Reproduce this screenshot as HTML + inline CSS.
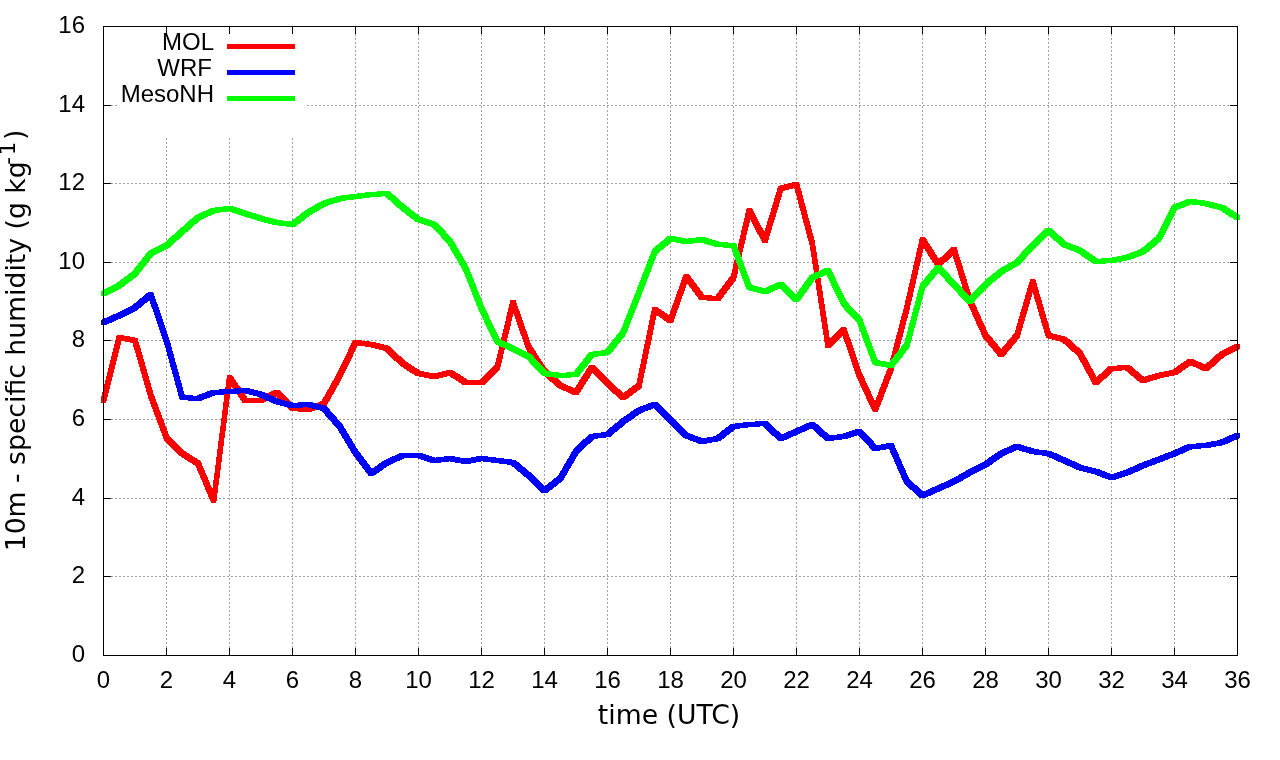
<!DOCTYPE html>
<html lang="en"><head><meta charset="utf-8"><title>10m specific humidity</title>
<style>html,body{margin:0;padding:0;background:#fff}body{width:1280px;height:760px;overflow:hidden}svg{display:block}.t{font-family:"Liberation Sans",sans-serif;font-size:24px;fill:#000}.a{font-family:"DejaVu Sans","Liberation Sans",sans-serif;font-size:26.67px;fill:#000}.g{stroke:#a0a0a0;stroke-width:1;stroke-dasharray:2 2;fill:none}.k{stroke:#000;stroke-width:1;fill:none}</style></head><body>
<svg width="1280" height="760" viewBox="0 0 1280 760">
<rect width="1280" height="760" fill="#fff"/>
<g class="g">
<line x1="103" y1="576.5" x2="1238" y2="576.5"/>
<line x1="103" y1="498.5" x2="1238" y2="498.5"/>
<line x1="103" y1="419.5" x2="1238" y2="419.5"/>
<line x1="103" y1="340.5" x2="1238" y2="340.5"/>
<line x1="103" y1="262.5" x2="1238" y2="262.5"/>
<line x1="103" y1="183.5" x2="1238" y2="183.5"/>
<line x1="103" y1="105.5" x2="1238" y2="105.5"/>
<line x1="166.5" y1="656" x2="166.5" y2="26"/>
<line x1="229.5" y1="656" x2="229.5" y2="26"/>
<line x1="292.5" y1="656" x2="292.5" y2="26"/>
<line x1="355.5" y1="656" x2="355.5" y2="26"/>
<line x1="418.5" y1="656" x2="418.5" y2="26"/>
<line x1="481.5" y1="656" x2="481.5" y2="26"/>
<line x1="544.5" y1="656" x2="544.5" y2="26"/>
<line x1="607.5" y1="656" x2="607.5" y2="26"/>
<line x1="670.5" y1="656" x2="670.5" y2="26"/>
<line x1="733.5" y1="656" x2="733.5" y2="26"/>
<line x1="796.5" y1="656" x2="796.5" y2="26"/>
<line x1="859.5" y1="656" x2="859.5" y2="26"/>
<line x1="922.5" y1="656" x2="922.5" y2="26"/>
<line x1="985.5" y1="656" x2="985.5" y2="26"/>
<line x1="1048.5" y1="656" x2="1048.5" y2="26"/>
<line x1="1111.5" y1="656" x2="1111.5" y2="26"/>
<line x1="1174.5" y1="656" x2="1174.5" y2="26"/>
</g>
<rect x="118" y="27" width="188" height="110" fill="#fff"/>
<g class="k">
<line x1="103" y1="655.5" x2="111" y2="655.5"/><line x1="1238" y1="655.5" x2="1230" y2="655.5"/>
<line x1="103" y1="576.5" x2="111" y2="576.5"/><line x1="1238" y1="576.5" x2="1230" y2="576.5"/>
<line x1="103" y1="498.5" x2="111" y2="498.5"/><line x1="1238" y1="498.5" x2="1230" y2="498.5"/>
<line x1="103" y1="419.5" x2="111" y2="419.5"/><line x1="1238" y1="419.5" x2="1230" y2="419.5"/>
<line x1="103" y1="340.5" x2="111" y2="340.5"/><line x1="1238" y1="340.5" x2="1230" y2="340.5"/>
<line x1="103" y1="262.5" x2="111" y2="262.5"/><line x1="1238" y1="262.5" x2="1230" y2="262.5"/>
<line x1="103" y1="183.5" x2="111" y2="183.5"/><line x1="1238" y1="183.5" x2="1230" y2="183.5"/>
<line x1="103" y1="105.5" x2="111" y2="105.5"/><line x1="1238" y1="105.5" x2="1230" y2="105.5"/>
<line x1="103" y1="26.5" x2="111" y2="26.5"/><line x1="1238" y1="26.5" x2="1230" y2="26.5"/>
<line x1="103.5" y1="656" x2="103.5" y2="648"/><line x1="103.5" y1="26" x2="103.5" y2="34"/>
<line x1="166.5" y1="656" x2="166.5" y2="648"/><line x1="166.5" y1="26" x2="166.5" y2="34"/>
<line x1="229.5" y1="656" x2="229.5" y2="648"/><line x1="229.5" y1="26" x2="229.5" y2="34"/>
<line x1="292.5" y1="656" x2="292.5" y2="648"/><line x1="292.5" y1="26" x2="292.5" y2="34"/>
<line x1="355.5" y1="656" x2="355.5" y2="648"/><line x1="355.5" y1="26" x2="355.5" y2="34"/>
<line x1="418.5" y1="656" x2="418.5" y2="648"/><line x1="418.5" y1="26" x2="418.5" y2="34"/>
<line x1="481.5" y1="656" x2="481.5" y2="648"/><line x1="481.5" y1="26" x2="481.5" y2="34"/>
<line x1="544.5" y1="656" x2="544.5" y2="648"/><line x1="544.5" y1="26" x2="544.5" y2="34"/>
<line x1="607.5" y1="656" x2="607.5" y2="648"/><line x1="607.5" y1="26" x2="607.5" y2="34"/>
<line x1="670.5" y1="656" x2="670.5" y2="648"/><line x1="670.5" y1="26" x2="670.5" y2="34"/>
<line x1="733.5" y1="656" x2="733.5" y2="648"/><line x1="733.5" y1="26" x2="733.5" y2="34"/>
<line x1="796.5" y1="656" x2="796.5" y2="648"/><line x1="796.5" y1="26" x2="796.5" y2="34"/>
<line x1="859.5" y1="656" x2="859.5" y2="648"/><line x1="859.5" y1="26" x2="859.5" y2="34"/>
<line x1="922.5" y1="656" x2="922.5" y2="648"/><line x1="922.5" y1="26" x2="922.5" y2="34"/>
<line x1="985.5" y1="656" x2="985.5" y2="648"/><line x1="985.5" y1="26" x2="985.5" y2="34"/>
<line x1="1048.5" y1="656" x2="1048.5" y2="648"/><line x1="1048.5" y1="26" x2="1048.5" y2="34"/>
<line x1="1111.5" y1="656" x2="1111.5" y2="648"/><line x1="1111.5" y1="26" x2="1111.5" y2="34"/>
<line x1="1174.5" y1="656" x2="1174.5" y2="648"/><line x1="1174.5" y1="26" x2="1174.5" y2="34"/>
<line x1="1237.5" y1="656" x2="1237.5" y2="648"/><line x1="1237.5" y1="26" x2="1237.5" y2="34"/>
</g>
<g class="t" text-anchor="end">
<text x="85" y="662.0">0</text>
<text x="85" y="583.0">2</text>
<text x="85" y="505.0">4</text>
<text x="85" y="426.0">6</text>
<text x="85" y="347.0">8</text>
<text x="85" y="269.0">10</text>
<text x="85" y="190.0">12</text>
<text x="85" y="112.0">14</text>
<text x="85" y="33.0">16</text>
</g>
<g class="t" text-anchor="middle">
<text x="103.5" y="688">0</text>
<text x="166.5" y="688">2</text>
<text x="229.5" y="688">4</text>
<text x="292.5" y="688">6</text>
<text x="355.5" y="688">8</text>
<text x="418.5" y="688">10</text>
<text x="481.5" y="688">12</text>
<text x="544.5" y="688">14</text>
<text x="607.5" y="688">16</text>
<text x="670.5" y="688">18</text>
<text x="733.5" y="688">20</text>
<text x="796.5" y="688">22</text>
<text x="859.5" y="688">24</text>
<text x="922.5" y="688">26</text>
<text x="985.5" y="688">28</text>
<text x="1048.5" y="688">30</text>
<text x="1111.5" y="688">32</text>
<text x="1174.5" y="688">34</text>
<text x="1237.5" y="688">36</text>
</g>
<text class="a" text-anchor="middle" x="669" y="723.5">time (UTC)</text>
<text class="a" text-anchor="middle" transform="translate(25,340.5) rotate(-90)">10m - specific humidity (g kg<tspan font-size="21.33px" dy="-10" dx="-3.5">-</tspan><tspan font-size="21.33px" dx="2">1</tspan><tspan dy="8.75" dx="1.5">)</tspan></text>
<g class="t" text-anchor="end">
<text x="214" y="49.5">MOL</text>
<text x="212" y="75.5">WRF</text>
<text x="214" y="101.5">MesoNH</text>
</g>
<rect x="227" y="44.0" width="68" height="5" fill="#ff0000"/>
<rect x="227" y="70.0" width="68" height="5" fill="#0000ff"/>
<rect x="227" y="96.0" width="68" height="5" fill="#00ff00"/>
<g shape-rendering="crispEdges">
<path fill="#ff0000" d="M101 398L116.75 335L121.75 335L121.75 340L106 403L101 403ZM116.75 335L121.75 335L137.5 338L137.5 343L132.5 343L116.75 340ZM132.5 338L137.5 338L153.25 393L153.25 398L148.25 398L132.5 343ZM148.25 393L153.25 393L169 435L169 440L164 440L148.25 398ZM164 435L169 435L184.75 451L184.75 456L179.75 456L164 440ZM179.75 451L184.75 451L200.5 461L200.5 466L195.5 466L179.75 456ZM195.5 461L200.5 461L216.25 498L216.25 503L211.25 503L195.5 466ZM211.25 498L227 375L232 375L232 380L216.25 503L211.25 503ZM227 375L232 375L247.75 398L247.75 403L242.75 403L227 380ZM242.75 398L263.5 398L263.5 403L242.75 403ZM258.5 398L274.25 390L279.25 390L279.25 395L263.5 403L258.5 403ZM274.25 390L279.25 390L295 406L295 411L290 411L274.25 395ZM290 406L295 406L310.75 407L310.75 412L305.75 412L290 411ZM305.75 407L321.5 401L326.5 401L326.5 406L310.75 412L305.75 412ZM321.5 401L337.25 373L342.25 373L342.25 378L326.5 406L321.5 406ZM337.25 373L353 340L358 340L358 345L342.25 378L337.25 378ZM353 340L358 340L373.75 342L373.75 347L368.75 347L353 345ZM368.75 342L373.75 342L389.5 346L389.5 351L384.5 351L368.75 347ZM384.5 346L389.5 346L405.25 361L405.25 366L400.25 366L384.5 351ZM400.25 361L405.25 361L421 371L421 376L416 376L400.25 366ZM416 371L421 371L436.75 374L436.75 379L431.75 379L416 376ZM431.75 374L447.5 370L452.5 370L452.5 375L436.75 379L431.75 379ZM447.5 370L452.5 370L468.25 380L468.25 385L463.25 385L447.5 375ZM463.25 380L484 380L484 385L463.25 385ZM479 380L494.75 365L499.75 365L499.75 370L484 385L479 385ZM494.75 365L510.5 300L515.5 300L515.5 305L499.75 370L494.75 370ZM510.5 300L515.5 300L531.25 345L531.25 350L526.25 350L510.5 305ZM526.25 345L531.25 345L547 369L547 374L542 374L526.25 350ZM542 369L547 369L562.75 383L562.75 388L557.75 388L542 374ZM557.75 383L562.75 383L578.5 390L578.5 395L573.5 395L557.75 388ZM573.5 390L589.25 365L594.25 365L594.25 370L578.5 395L573.5 395ZM589.25 365L594.25 365L610 381L610 386L605 386L589.25 370ZM605 381L610 381L625.75 395L625.75 400L620.75 400L605 386ZM620.75 395L636.5 383L641.5 383L641.5 388L625.75 400L620.75 400ZM636.5 383L652.25 307L657.25 307L657.25 312L641.5 388L636.5 388ZM652.25 307L657.25 307L673 318L673 323L668 323L652.25 312ZM668 318L683.75 274L688.75 274L688.75 279L673 323L668 323ZM683.75 274L688.75 274L704.5 295L704.5 300L699.5 300L683.75 279ZM699.5 295L704.5 295L720.25 296L720.25 301L715.25 301L699.5 300ZM715.25 296L731 275L736 275L736 280L720.25 301L715.25 301ZM731 275L746.75 208L751.75 208L751.75 213L736 280L731 280ZM746.75 208L751.75 208L767.5 238L767.5 243L762.5 243L746.75 213ZM762.5 238L778.25 186L783.25 186L783.25 191L767.5 243L762.5 243ZM778.25 186L794 182L799 182L799 187L783.25 191L778.25 191ZM794 182L799 182L814.75 241L814.75 246L809.75 246L794 187ZM809.75 241L814.75 241L830.5 343L830.5 348L825.5 348L809.75 246ZM825.5 343L841.25 327L846.25 327L846.25 332L830.5 348L825.5 348ZM841.25 327L846.25 327L862 373L862 378L857 378L841.25 332ZM857 373L862 373L877.75 407L877.75 412L872.75 412L857 378ZM872.75 407L888.5 366L893.5 366L893.5 371L877.75 412L872.75 412ZM888.5 366L904.25 306L909.25 306L909.25 311L893.5 371L888.5 371ZM904.25 306L920 237L925 237L925 242L909.25 311L904.25 311ZM920 237L925 237L940.75 262L940.75 267L935.75 267L920 242ZM935.75 262L951.5 247L956.5 247L956.5 252L940.75 267L935.75 267ZM951.5 247L956.5 247L972.25 298L972.25 303L967.25 303L951.5 252ZM967.25 298L972.25 298L988 333L988 338L983 338L967.25 303ZM983 333L988 333L1003.75 352L1003.75 357L998.75 357L983 338ZM998.75 352L1014.5 333L1019.5 333L1019.5 338L1003.75 357L998.75 357ZM1014.5 333L1030.25 279L1035.25 279L1035.25 284L1019.5 338L1014.5 338ZM1030.25 279L1035.25 279L1051 333L1051 338L1046 338L1030.25 284ZM1046 333L1051 333L1066.75 337L1066.75 342L1061.75 342L1046 338ZM1061.75 337L1066.75 337L1082.5 351L1082.5 356L1077.5 356L1061.75 342ZM1077.5 351L1082.5 351L1098.25 380L1098.25 385L1093.25 385L1077.5 356ZM1093.25 380L1109 366L1114 366L1114 371L1098.25 385L1093.25 385ZM1109 366L1124.75 365L1129.75 365L1129.75 370L1114 371L1109 371ZM1124.75 365L1129.75 365L1145.5 378L1145.5 383L1140.5 383L1124.75 370ZM1140.5 378L1156.25 373L1161.25 373L1161.25 378L1145.5 383L1140.5 383ZM1156.25 373L1172 370L1177 370L1177 375L1161.25 378L1156.25 378ZM1172 370L1187.75 359L1192.75 359L1192.75 364L1177 375L1172 375ZM1187.75 359L1192.75 359L1208.5 366L1208.5 371L1203.5 371L1187.75 364ZM1203.5 366L1219.25 352L1224.25 352L1224.25 357L1208.5 371L1203.5 371ZM1219.25 352L1235 344L1240 344L1240 349L1224.25 357L1219.25 357Z"/>
<path fill="#0000ff" d="M101 320L116.75 313L121.75 313L121.75 318L106 325L101 325ZM116.75 313L132.5 305L137.5 305L137.5 310L121.75 318L116.75 318ZM132.5 305L148.25 292L153.25 292L153.25 297L137.5 310L132.5 310ZM148.25 292L153.25 292L169 338L169 343L164 343L148.25 297ZM164 338L169 338L184.75 395L184.75 400L179.75 400L164 343ZM179.75 395L184.75 395L200.5 396L200.5 401L195.5 401L179.75 400ZM195.5 396L211.25 390L216.25 390L216.25 395L200.5 401L195.5 401ZM211.25 390L227 389L232 389L232 394L216.25 395L211.25 395ZM227 389L242.75 388L247.75 388L247.75 393L232 394L227 394ZM242.75 388L247.75 388L263.5 392L263.5 397L258.5 397L242.75 393ZM258.5 392L263.5 392L279.25 399L279.25 404L274.25 404L258.5 397ZM274.25 399L279.25 399L295 403L295 408L290 408L274.25 404ZM290 403L305.75 402L310.75 402L310.75 407L295 408L290 408ZM305.75 402L310.75 402L326.5 406L326.5 411L321.5 411L305.75 407ZM321.5 406L326.5 406L342.25 424L342.25 429L337.25 429L321.5 411ZM337.25 424L342.25 424L358 450L358 455L353 455L337.25 429ZM353 450L358 450L373.75 471L373.75 476L368.75 476L353 455ZM368.75 471L384.5 460L389.5 460L389.5 465L373.75 476L368.75 476ZM384.5 460L400.25 453L405.25 453L405.25 458L389.5 465L384.5 465ZM400.25 453L421 453L421 458L400.25 458ZM416 453L421 453L436.75 458L436.75 463L431.75 463L416 458ZM431.75 458L447.5 456L452.5 456L452.5 461L436.75 463L431.75 463ZM447.5 456L452.5 456L468.25 459L468.25 464L463.25 464L447.5 461ZM463.25 459L479 456L484 456L484 461L468.25 464L463.25 464ZM479 456L484 456L499.75 458L499.75 463L494.75 463L479 461ZM494.75 458L499.75 458L515.5 460L515.5 465L510.5 465L494.75 463ZM510.5 460L515.5 460L531.25 473L531.25 478L526.25 478L510.5 465ZM526.25 473L531.25 473L547 488L547 493L542 493L526.25 478ZM542 488L557.75 476L562.75 476L562.75 481L547 493L542 493ZM557.75 476L573.5 449L578.5 449L578.5 454L562.75 481L557.75 481ZM573.5 449L589.25 434L594.25 434L594.25 439L578.5 454L573.5 454ZM589.25 434L605 432L610 432L610 437L594.25 439L589.25 439ZM605 432L620.75 419L625.75 419L625.75 424L610 437L605 437ZM620.75 419L636.5 408L641.5 408L641.5 413L625.75 424L620.75 424ZM636.5 408L652.25 402L657.25 402L657.25 407L641.5 413L636.5 413ZM652.25 402L657.25 402L673 417L673 422L668 422L652.25 407ZM668 417L673 417L688.75 433L688.75 438L683.75 438L668 422ZM683.75 433L688.75 433L704.5 439L704.5 444L699.5 444L683.75 438ZM699.5 439L715.25 436L720.25 436L720.25 441L704.5 444L699.5 444ZM715.25 436L731 424L736 424L736 429L720.25 441L715.25 441ZM731 424L746.75 422L751.75 422L751.75 427L736 429L731 429ZM746.75 422L762.5 421L767.5 421L767.5 426L751.75 427L746.75 427ZM762.5 421L767.5 421L783.25 436L783.25 441L778.25 441L762.5 426ZM778.25 436L794 429L799 429L799 434L783.25 441L778.25 441ZM794 429L809.75 422L814.75 422L814.75 427L799 434L794 434ZM809.75 422L814.75 422L830.5 436L830.5 441L825.5 441L809.75 427ZM825.5 436L841.25 434L846.25 434L846.25 439L830.5 441L825.5 441ZM841.25 434L857 429L862 429L862 434L846.25 439L841.25 439ZM857 429L862 429L877.75 446L877.75 451L872.75 451L857 434ZM872.75 446L888.5 443L893.5 443L893.5 448L877.75 451L872.75 451ZM888.5 443L893.5 443L909.25 479L909.25 484L904.25 484L888.5 448ZM904.25 479L909.25 479L925 493L925 498L920 498L904.25 484ZM920 493L935.75 486L940.75 486L940.75 491L925 498L920 498ZM935.75 486L951.5 479L956.5 479L956.5 484L940.75 491L935.75 491ZM951.5 479L967.25 470L972.25 470L972.25 475L956.5 484L951.5 484ZM967.25 470L983 462L988 462L988 467L972.25 475L967.25 475ZM983 462L998.75 451L1003.75 451L1003.75 456L988 467L983 467ZM998.75 451L1014.5 444L1019.5 444L1019.5 449L1003.75 456L998.75 456ZM1014.5 444L1019.5 444L1035.25 449L1035.25 454L1030.25 454L1014.5 449ZM1030.25 449L1035.25 449L1051 451L1051 456L1046 456L1030.25 454ZM1046 451L1051 451L1066.75 458L1066.75 463L1061.75 463L1046 456ZM1061.75 458L1066.75 458L1082.5 465L1082.5 470L1077.5 470L1061.75 463ZM1077.5 465L1082.5 465L1098.25 469L1098.25 474L1093.25 474L1077.5 470ZM1093.25 469L1098.25 469L1114 475L1114 480L1109 480L1093.25 474ZM1109 475L1124.75 470L1129.75 470L1129.75 475L1114 480L1109 480ZM1124.75 470L1140.5 463L1145.5 463L1145.5 468L1129.75 475L1124.75 475ZM1140.5 463L1156.25 457L1161.25 457L1161.25 462L1145.5 468L1140.5 468ZM1156.25 457L1172 451L1177 451L1177 456L1161.25 462L1156.25 462ZM1172 451L1187.75 444L1192.75 444L1192.75 449L1177 456L1172 456ZM1187.75 444L1203.5 443L1208.5 443L1208.5 448L1192.75 449L1187.75 449ZM1203.5 443L1219.25 440L1224.25 440L1224.25 445L1208.5 448L1203.5 448ZM1219.25 440L1235 433L1240 433L1240 438L1224.25 445L1219.25 445Z"/>
<path fill="#00ff00" d="M101 291L116.75 283L121.75 283L121.75 288L106 296L101 296ZM116.75 283L132.5 271L137.5 271L137.5 276L121.75 288L116.75 288ZM132.5 271L148.25 251L153.25 251L153.25 256L137.5 276L132.5 276ZM148.25 251L164 243L169 243L169 248L153.25 256L148.25 256ZM164 243L179.75 229L184.75 229L184.75 234L169 248L164 248ZM179.75 229L195.5 215L200.5 215L200.5 220L184.75 234L179.75 234ZM195.5 215L211.25 208L216.25 208L216.25 213L200.5 220L195.5 220ZM211.25 208L227 206L232 206L232 211L216.25 213L211.25 213ZM227 206L232 206L247.75 211L247.75 216L242.75 216L227 211ZM242.75 211L247.75 211L263.5 216L263.5 221L258.5 221L242.75 216ZM258.5 216L263.5 216L279.25 220L279.25 225L274.25 225L258.5 221ZM274.25 220L279.25 220L295 222L295 227L290 227L274.25 225ZM290 222L305.75 210L310.75 210L310.75 215L295 227L290 227ZM305.75 210L321.5 201L326.5 201L326.5 206L310.75 215L305.75 215ZM321.5 201L337.25 196L342.25 196L342.25 201L326.5 206L321.5 206ZM337.25 196L353 194L358 194L358 199L342.25 201L337.25 201ZM353 194L368.75 192L373.75 192L373.75 197L358 199L353 199ZM368.75 192L384.5 191L389.5 191L389.5 196L373.75 197L368.75 197ZM384.5 191L389.5 191L405.25 205L405.25 210L400.25 210L384.5 196ZM400.25 205L405.25 205L421 217L421 222L416 222L400.25 210ZM416 217L421 217L436.75 222L436.75 227L431.75 227L416 222ZM431.75 222L436.75 222L452.5 239L452.5 244L447.5 244L431.75 227ZM447.5 239L452.5 239L468.25 266L468.25 271L463.25 271L447.5 244ZM463.25 266L468.25 266L484 306L484 311L479 311L463.25 271ZM479 306L484 306L499.75 339L499.75 344L494.75 344L479 311ZM494.75 339L499.75 339L515.5 346L515.5 351L510.5 351L494.75 344ZM510.5 346L515.5 346L531.25 354L531.25 359L526.25 359L510.5 351ZM526.25 354L531.25 354L547 371L547 376L542 376L526.25 359ZM542 371L547 371L562.75 373L562.75 378L557.75 378L542 376ZM557.75 373L573.5 372L578.5 372L578.5 377L562.75 378L557.75 378ZM573.5 372L589.25 352L594.25 352L594.25 357L578.5 377L573.5 377ZM589.25 352L605 350L610 350L610 355L594.25 357L589.25 357ZM605 350L620.75 330L625.75 330L625.75 335L610 355L605 355ZM620.75 330L636.5 290L641.5 290L641.5 295L625.75 335L620.75 335ZM636.5 290L652.25 249L657.25 249L657.25 254L641.5 295L636.5 295ZM652.25 249L668 236L673 236L673 241L657.25 254L652.25 254ZM668 236L673 236L688.75 239L688.75 244L683.75 244L668 241ZM683.75 239L699.5 237L704.5 237L704.5 242L688.75 244L683.75 244ZM699.5 237L704.5 237L720.25 242L720.25 247L715.25 247L699.5 242ZM715.25 242L720.25 242L736 243L736 248L731 248L715.25 247ZM731 243L736 243L751.75 285L751.75 290L746.75 290L731 248ZM746.75 285L751.75 285L767.5 289L767.5 294L762.5 294L746.75 290ZM762.5 289L778.25 282L783.25 282L783.25 287L767.5 294L762.5 294ZM778.25 282L783.25 282L799 297L799 302L794 302L778.25 287ZM794 297L809.75 275L814.75 275L814.75 280L799 302L794 302ZM809.75 275L825.5 268L830.5 268L830.5 273L814.75 280L809.75 280ZM825.5 268L830.5 268L846.25 301L846.25 306L841.25 306L825.5 273ZM841.25 301L846.25 301L862 318L862 323L857 323L841.25 306ZM857 318L862 318L877.75 360L877.75 365L872.75 365L857 323ZM872.75 360L877.75 360L893.5 363L893.5 368L888.5 368L872.75 365ZM888.5 363L904.25 343L909.25 343L909.25 348L893.5 368L888.5 368ZM904.25 343L920 284L925 284L925 289L909.25 348L904.25 348ZM920 284L935.75 265L940.75 265L940.75 270L925 289L920 289ZM935.75 265L940.75 265L956.5 282L956.5 287L951.5 287L935.75 270ZM951.5 282L956.5 282L972.25 299L972.25 304L967.25 304L951.5 287ZM967.25 299L983 282L988 282L988 287L972.25 304L967.25 304ZM983 282L998.75 269L1003.75 269L1003.75 274L988 287L983 287ZM998.75 269L1014.5 260L1019.5 260L1019.5 265L1003.75 274L998.75 274ZM1014.5 260L1030.25 243L1035.25 243L1035.25 248L1019.5 265L1014.5 265ZM1030.25 243L1046 228L1051 228L1051 233L1035.25 248L1030.25 248ZM1046 228L1051 228L1066.75 242L1066.75 247L1061.75 247L1046 233ZM1061.75 242L1066.75 242L1082.5 248L1082.5 253L1077.5 253L1061.75 247ZM1077.5 248L1082.5 248L1098.25 259L1098.25 264L1093.25 264L1077.5 253ZM1093.25 259L1109 258L1114 258L1114 263L1098.25 264L1093.25 264ZM1109 258L1124.75 255L1129.75 255L1129.75 260L1114 263L1109 263ZM1124.75 255L1140.5 249L1145.5 249L1145.5 254L1129.75 260L1124.75 260ZM1140.5 249L1156.25 236L1161.25 236L1161.25 241L1145.5 254L1140.5 254ZM1156.25 236L1172 205L1177 205L1177 210L1161.25 241L1156.25 241ZM1172 205L1187.75 199L1192.75 199L1192.75 204L1177 210L1172 210ZM1187.75 199L1192.75 199L1208.5 201L1208.5 206L1203.5 206L1187.75 204ZM1203.5 201L1208.5 201L1224.25 205L1224.25 210L1219.25 210L1203.5 206ZM1219.25 205L1224.25 205L1240 215L1240 220L1235 220L1219.25 210Z"/>
</g>
<rect class="k" x="103.5" y="26.5" width="1134.0" height="629.0"/>
</svg></body></html>
